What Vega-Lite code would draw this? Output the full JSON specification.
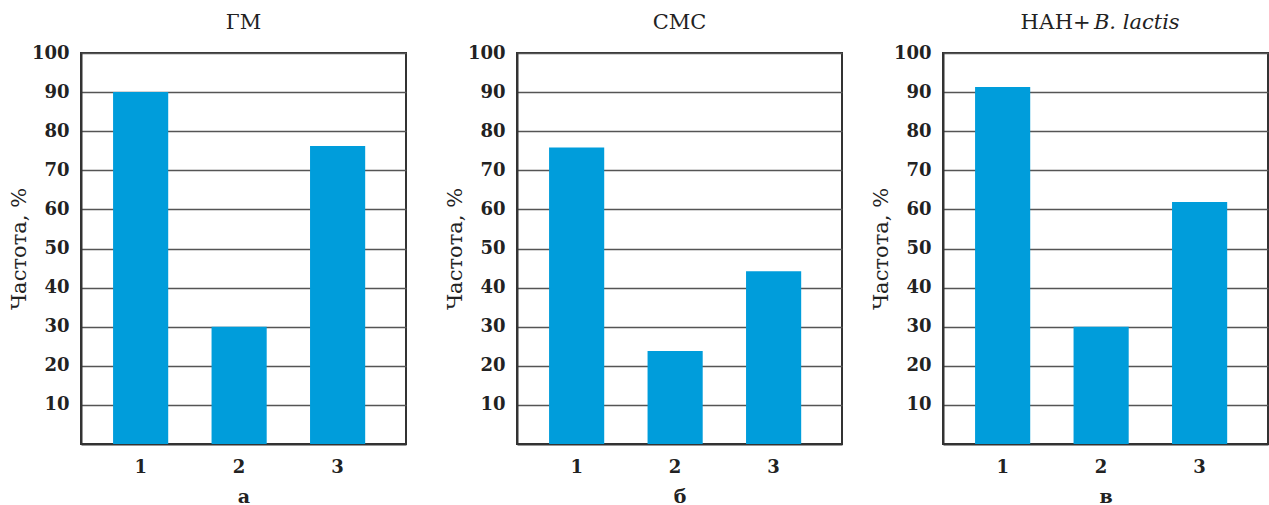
{
  "$schema": "https://vega.github.io/schema/vega-lite/v6.json",
  "background": "white",
  "padding": {"left": 7, "top": 11, "right": 0, "bottom": 0},
  "data": {"values": [
    {"panel": "ГМ", "group": "1", "value": 90},
    {"panel": "ГМ", "group": "2", "value": 30},
    {"panel": "ГМ", "group": "3", "value": 76.2},
    {"panel": "СМС", "group": "1", "value": 75.8},
    {"panel": "СМС", "group": "2", "value": 23.8},
    {"panel": "СМС", "group": "3", "value": 44.2},
    {"panel": "НАН", "group": "1", "value": 91.3},
    {"panel": "НАН", "group": "2", "value": 30},
    {"panel": "НАН", "group": "3", "value": 61.9}
  ]},
  "config": {
    "view": {"stroke": "#333", "strokeWidth": 2},
    "font": "DejaVu Serif",
    "title": {"font": "DejaVu Serif", "fontSize": 21, "fontWeight": "normal", "color": "#222", "offset": 11, "subtitleFont": "DejaVu Serif", "subtitleFontSize": 21, "subtitleColor": "#222"},
    "axis": {
      "gridColor": "#555", "gridWidth": 1.5, "gridOpacity": 1, "ticks": false,
      "domainColor": "#333", "domainWidth": 2,
      "labelFont": "DejaVu Serif", "labelFontWeight": "bold", "labelFontSize": 18, "labelColor": "#222",
      "titleFont": "DejaVu Serif", "titleFontSize": 21, "titleFontWeight": "normal", "titleColor": "#222"
    },
    "axisX": {"grid": false, "labelAngle": 0, "labelPadding": 14, "titleFontWeight": "bold", "titleFontSize": 19, "titlePadding": 11},
    "axisY": {"labelPadding": 12, "titlePadding": 2},
    "bar": {"color": "#009ddb"},
    "scale": {"bandPaddingInner": 0.44, "bandPaddingOuter": 0.37}
  },
  "spacing": 26,
  "hconcat": [
    {
      "spacing": 36,
      "hconcat": [
        {
          "width": 325, "height": 391,
          "title": "ГМ",
          "transform": [{"filter": "datum.panel === 'ГМ'"}],
          "mark": "bar",
          "encoding": {
            "x": {"field": "group", "type": "ordinal", "title": "а", "scale": {"align": 0.44}},
            "y": {"field": "value", "type": "quantitative", "title": "Частота, %", "scale": {"domain": [0, 100]}, "axis": {"values": [10, 20, 30, 40, 50, 60, 70, 80, 90, 100]}}
          }
        },
        {
          "width": 325, "height": 391,
          "title": "СМС",
          "transform": [{"filter": "datum.panel === 'СМС'"}],
          "mark": "bar",
          "encoding": {
            "x": {"field": "group", "type": "ordinal", "title": "б", "scale": {"align": 0.44}},
            "y": {"field": "value", "type": "quantitative", "title": "Частота, %", "scale": {"domain": [0, 100]}, "axis": {"values": [10, 20, 30, 40, 50, 60, 70, 80, 90, 100]}}
          }
        }
      ]
    },
    {
      "width": 325, "height": 391,
      "title": {"text": "НАН+", "subtitle": "\u200b\u00a0\u00a0\u00a0\u00a0\u00a0\u00a0\u00a0\u00a0\u00a0\u00a0\u00a0B. lactis", "subtitleFontStyle": "italic", "subtitlePadding": -21, "anchor": "middle", "align": "left", "dx": -85},
      "transform": [{"filter": "datum.panel === 'НАН'"}],
      "mark": "bar",
      "encoding": {
        "x": {"field": "group", "type": "ordinal", "title": "в", "scale": {"align": 0.44}},
        "y": {"field": "value", "type": "quantitative", "title": "Частота, %", "scale": {"domain": [0, 100]}, "axis": {"values": [10, 20, 30, 40, 50, 60, 70, 80, 90, 100]}}
      }
    }
  ]
}
